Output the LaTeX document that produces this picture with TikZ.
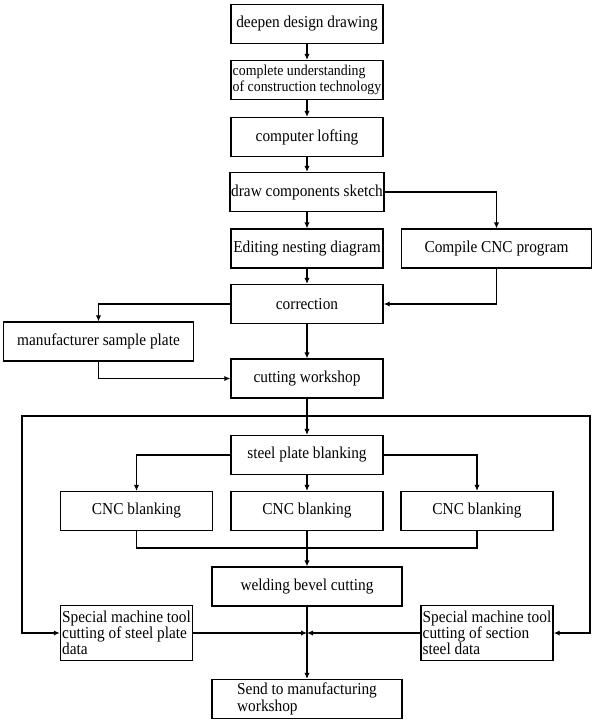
\documentclass[tikz,border=0pt]{standalone}
\usepackage{fontspec}
\setmainfont{Liberation Serif}[FakeStretch=0.92]
\usetikzlibrary{arrows.meta}

\tikzset{
box/.style={draw, line width=1.1pt, inner sep=1pt, align=left, font=\fontsize{12.5}{12.2}\selectfont, minimum width=114pt, minimum height=29pt},
wbox/.style={box, minimum width=142.5pt},
sbox/.style={box, minimum width=99pt, minimum height=41pt},
link/.style={line width=0.9pt},
}

\begin{document}
\begin{tikzpicture}[x=0.75pt, y=-0.75pt, >={Latex[length=4.5pt,width=4pt]}]
\useasboundingbox (0,0) rectangle (600,723);
\node[box] (deep) at (307,24) {deepen design drawing};
\node[box, font=\fontsize{11.3}{11.7}\selectfont] (und) at (307,80) {complete understanding\\of construction technology};
\node[box] (loft) at (307,137) {computer lofting};
\node[box] (sketch) at (307,192) {draw components sketch};
\node[box] (nest) at (307,248.5) {Editing nesting diagram};
\node[wbox] (prog) at (496.5,248.5) {Compile CNC program};
\node[box] (corr) at (307,304) {correction};
\node[wbox] (sample) at (98.5,341.5) {manufacturer sample plate};
\node[box] (cut) at (307,378.5) {cutting workshop};
\node[box] (steel) at (307,455) {steel plate blanking};
\node[box] (cncA) at (136.5,511) {CNC blanking};
\node[box] (cncB) at (307,511) {CNC blanking};
\node[box] (cncC) at (477,511) {CNC blanking};
\node[wbox] (bevel) at (307,586.5) {welding bevel cutting};
\node[sbox] (spL) at (126.5,633) {Special machine tool\\cutting of steel plate\\data};
\node[sbox] (spR) at (487,633) {Special machine tool\\cutting of section\\steel data};
\node[wbox] (send) at (307,699) {Send to manufacturing\\workshop};
\coordinate (join) at (307,548);
\coordinate (ftop) at (307,416);
\coordinate (fL) at (22,416);
\coordinate (fR) at (590,416);
\coordinate (mid) at (307,633);
\draw[link,->] (deep) -- (und);
\draw[link,->] (und) -- (loft);
\draw[link,->] (loft) -- (sketch);
\draw[link,->] (sketch) -- (nest);
\draw[link,->] (nest) -- (corr);
\draw[link,->] (corr) -- (cut);
\draw[link,->] (cut) -- (steel);
\draw[link,->] (steel) -- (cncB);
\draw[link,->] (cncB) -- (bevel);
\draw[link,->] (bevel) -- (send);
\draw[link,->] (sketch.east) -| (prog.north);
\draw[link,->] (prog.south) |- (corr.east);
\draw[link,->] (corr.west) -| (sample.north);
\draw[link,->] (sample.south) |- (cut.west);
\draw[link,->] (steel.west) -| (cncA.north);
\draw[link,->] (steel.east) -| (cncC.north);
\draw[link] (cncA) |- (join) -| (cncC);
\draw[link,->] (ftop) -- (fL) |- (spL);
\draw[link,->] (ftop) -- (fR) |- (spR);
\draw[link,->] (spL) -- (mid);
\draw[link,->] (spR) -- (mid);
\end{tikzpicture}
\end{document}
